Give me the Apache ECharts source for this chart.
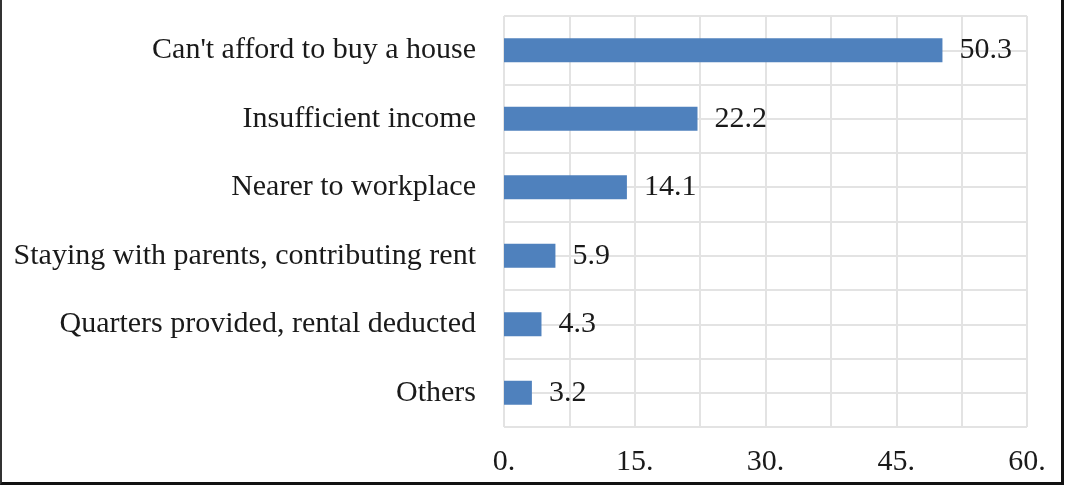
<!DOCTYPE html>
<html>
<head>
<meta charset="utf-8">
<script src="https://cdn.jsdelivr.net/npm/echarts@6/dist/echarts.min.js"></script>
<style>
  html, body { margin: 0; padding: 0; background: #fff; }
  #frame {
    position: absolute; left: 0; top: 0;
    width: 1059px; height: 482px;
    border-left: 2px solid #333;
    border-right: 3px solid #111;
    border-bottom: 3px solid #111;
  }
  #chart { position: absolute; left: 0; top: 0; width: 1067px; height: 491px; }
</style>
</head>
<body>
<div id="frame"></div>
<div id="chart"></div>
<script>
// reasons for renting (%)
var categories = [
  "Can't afford to buy a house",
  'Insufficient income',
  'Nearer to workplace',
  'Staying with parents, contributing rent',
  'Quarters provided, rental deducted',
  'Others'
];
var values = [50.3, 22.2, 14.1, 5.9, 4.3, 3.2];

var font = 'Liberation Serif';
var gridColor = '#e3e3e3';

var myChart = echarts.init(document.getElementById('chart'));
var option = {
  animation: false,
  grid: { left: 504, right: 40, top: 16, bottom: 64 },
  xAxis: {
    type: 'value',
    min: 0,
    max: 60,
    interval: 7.5,
    axisLine: { show: false },
    axisTick: { show: false },
    splitLine: { lineStyle: { color: gridColor, width: 2 } },
    axisLabel: {
      margin: 20,
      fontFamily: font,
      fontSize: 30,
      color: '#1a1a1a',
      formatter: function(v) {
        return v % 15 === 0 ? v + '.' : '';
      }
    }
  },
  yAxis: [{
    type: 'category',
    data: categories,
    inverse: true,
    axisLine: { show: false },
    axisTick: { show: false },
    splitLine: { show: false },
    axisLabel: {
      margin: 28,
      fontFamily: font,
      fontSize: 30,
      color: '#1a1a1a'
    }
  }, {
    // half-category grid lines
    type: 'value',
    min: 0,
    max: 12,
    interval: 1,
    position: 'left',
    axisLine: { show: false },
    axisTick: { show: false },
    axisLabel: { show: false },
    splitLine: { show: true, lineStyle: { color: gridColor, width: 2 } }
  }],
  series: [{
    type: 'bar',
    data: values,
    barWidth: 24,
    itemStyle: { color: '#4f81bd' },
    label: {
      show: true,
      position: 'right',
      distance: 17,
      fontFamily: font,
      fontSize: 30,
      color: '#1a1a1a'
    }
  }]
};
myChart.setOption(option);
</script>
</body>
</html>
